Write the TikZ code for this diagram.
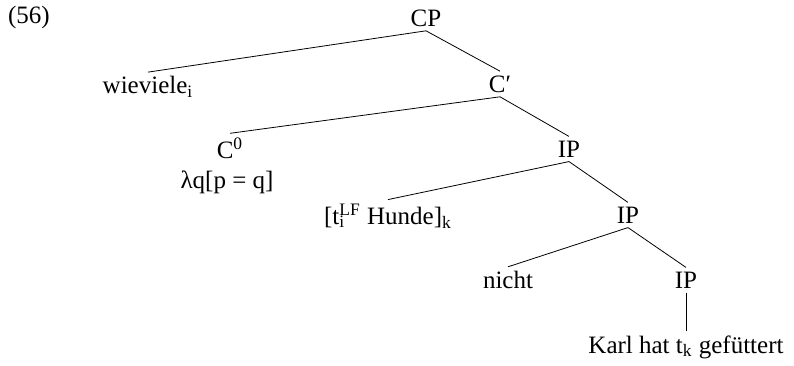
\documentclass[tikz,border=0pt]{standalone}
\usepackage{fontspec}
\setmainfont{Liberation Serif}
\begin{document}
\begin{tikzpicture}[
x=0.5pt,y=-0.5pt,
every node/.style={
inner sep=2pt,
font=\fontsize{12.5}{14}\selectfont
}
]
\useasboundingbox (0,0) rectangle (794,365);

\node (Num) at (29,17)
{(56)};

\node (CP) at (426,18)
{CP};

\node (Wv) at (148,87)
{wieviele\textsubscript{i}};

\node (Cb) at (500,84)
{C′};

\node (C0) at (230,148)
{C\textsuperscript{0}};

\node (Lam) at (227,182)
{λq[p = q]};

\node (IPa) at (569,149)
{IP};

\node (TH) at (388,216)
{[t\rlap{\textsubscript{i}}\textsuperscript{LF} Hunde]\textsubscript{k}};

\node (IPb) at (628,215)
{IP};

\node (Ni) at (508,280)
{nicht};

\node (IPc) at (686,280)
{IP};

\node (Ka) at (686,347)
{Karl hat t\textsubscript{k} gefüttert};

\draw (CP.south) -- (Wv.north);
\draw (CP.south) -- (Cb.north);
\draw (Cb.south) -- (C0.north);
\draw (Cb.south) -- (IPa.north);
\draw (IPa.south) -- (TH.north);
\draw (IPa.south) -- (IPb.north);
\draw (IPb.south) -- (Ni.north);
\draw (IPb.south) -- (IPc.north);
\draw (IPc.south) -- (Ka.north);

\end{tikzpicture}
\end{document}
